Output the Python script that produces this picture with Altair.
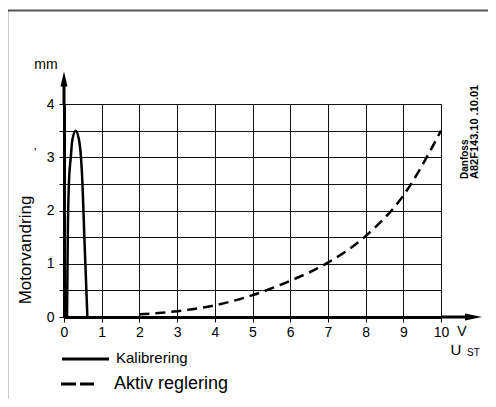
import altair as alt
import pandas as pd

# Kalibrering (solid)
kal_x = [0.08, 0.09, 0.10, 0.13, 0.18, 0.22, 0.31, 0.40, 0.45, 0.49, 0.54, 0.58, 0.62]
kal_y = [0.0, 0.75, 1.5, 2.5, 3.0, 3.32, 3.5, 3.32, 3.0, 2.5, 1.5, 0.75, 0.0]

# Aktiv reglering (dashed)
akt_x = [2, 3, 4, 5, 6, 7, 8, 9, 10]
akt_y = [0.05, 0.11, 0.22, 0.41, 0.68, 1.02, 1.52, 2.28, 3.5]

x_ticks = list(range(0, 11))
y_ticks = [0, 0.5, 1, 1.5, 2, 2.5, 3, 3.5, 4]

FONT = "Liberation Sans"

kal = pd.DataFrame({"x": kal_x, "y": kal_y})
akt = pd.DataFrame({"x": akt_x, "y": akt_y})
one = pd.DataFrame({"a": [0]})

xs = alt.Scale(domain=[0, 10], nice=False, zero=False)
ys = alt.Scale(domain=[0, 4], nice=False, zero=False)

common = dict(title="", grid=True, gridColor="#111", gridWidth=1, gridOpacity=1,
              domainColor="black", domainWidth=3, tickColor="black", tickSize=5,
              tickWidth=1, labelFontSize=14, labelFont=FONT, labelColor="black",
              labelFlush=False, labelOverlap=False)
x_axis = alt.Axis(values=x_ticks, labelPadding=3, format="d", **common)
y_axis = alt.Axis(values=y_ticks, labelPadding=5,
                  labelExpr="datum.value % 1 === 0 ? format(datum.value, 'd') : ''", **common)

X = alt.X("x:Q", scale=xs, axis=x_axis)
Y = alt.Y("y:Q", scale=ys, axis=y_axis)

line_kal = alt.Chart(kal).mark_line(color="black", strokeWidth=2.5, interpolate="monotone").encode(
    x=X, y=Y)

line_akt = alt.Chart(akt).mark_line(color="black", strokeWidth=2.5, strokeDash=[10, 6],
                                    interpolate="monotone").encode(x=X, y=Y)

def rule(x, y, x2=None, y2=None, dash=None, width=3, color="black"):
    kw = dict(color=color, strokeWidth=width)
    if dash:
        kw["strokeDash"] = dash
    enc = dict(x=alt.value(x), y=alt.value(y))
    if x2 is not None:
        enc["x2"] = alt.value(x2)
    if y2 is not None:
        enc["y2"] = alt.value(y2)
    return alt.Chart(one).mark_rule(**kw).encode(**enc)

def text(t, x, y, size, angle=0, align="center", baseline="middle", weight="normal"):
    kw = dict(text=t, fontSize=size, font=FONT, color="black", align=align,
              baseline=baseline, fontWeight=weight)
    if angle:
        kw["angle"] = angle
    return alt.Chart(one).mark_text(**kw).encode(x=alt.value(x), y=alt.value(y))

# axis arrows
y_ext = rule(0, 0, y2=-20)
x_ext = rule(377, 213, x2=404)
y_head = alt.Chart(one).mark_point(shape="M0,-1L0.47,1L-0.47,1Z", size=225, filled=True,
                                   color="black", opacity=1, strokeWidth=0).encode(
    x=alt.value(0), y=alt.value(-25))
x_head = alt.Chart(one).mark_point(shape="M1,0L-1,-0.41L-1,0.41Z", size=289, filled=True,
                                   color="black", opacity=1, strokeWidth=0).encode(
    x=alt.value(409.5), y=alt.value(213))

# frame
frame_top = rule(-57, -93.5, x2=440, width=2, color="#555")
frame_left = rule(-56.5, -94, y2=310, width=1.5, color="#333")

layers = [
    frame_top, frame_left,
    line_kal, line_akt,
    y_ext, x_ext, y_head, x_head,
    text("mm", -18, -35, 14, baseline="alphabetic"),
    text("Motorvandring", -38, 146, 17, angle=270),
    text("\u2019", -29, 49, 12),
    text("V", 398, 228, 14),
    text("U", 392, 246, 15),
    text("ST", 403, 249, 10, align="left"),
    text("Danfoss", 401, 75, 10, angle=270, align="left", weight="bold"),
    text("A82F143.10 .10.01", 411, 75, 11, angle=270, align="left", weight="bold"),
    # legend
    rule(-2, 255, x2=45, width=3),
    text("Kalibrering", 52, 259, 15, align="left", baseline="alphabetic"),
    rule(-3, 280, x2=30, width=3, dash=[15, 4]),
    text("Aktiv reglering", 50, 285, 18, align="left", baseline="alphabetic"),
]

chart = alt.layer(*layers).properties(
    width=377, height=213,
    autosize=alt.AutoSizeParams(type="none"),
    padding={"left": 56, "top": 96, "right": 47, "bottom": 82},
).configure_view(stroke=None).configure(background="white")

chart.save("out.html", embed_options={"renderer": "svg", "actions": False})
